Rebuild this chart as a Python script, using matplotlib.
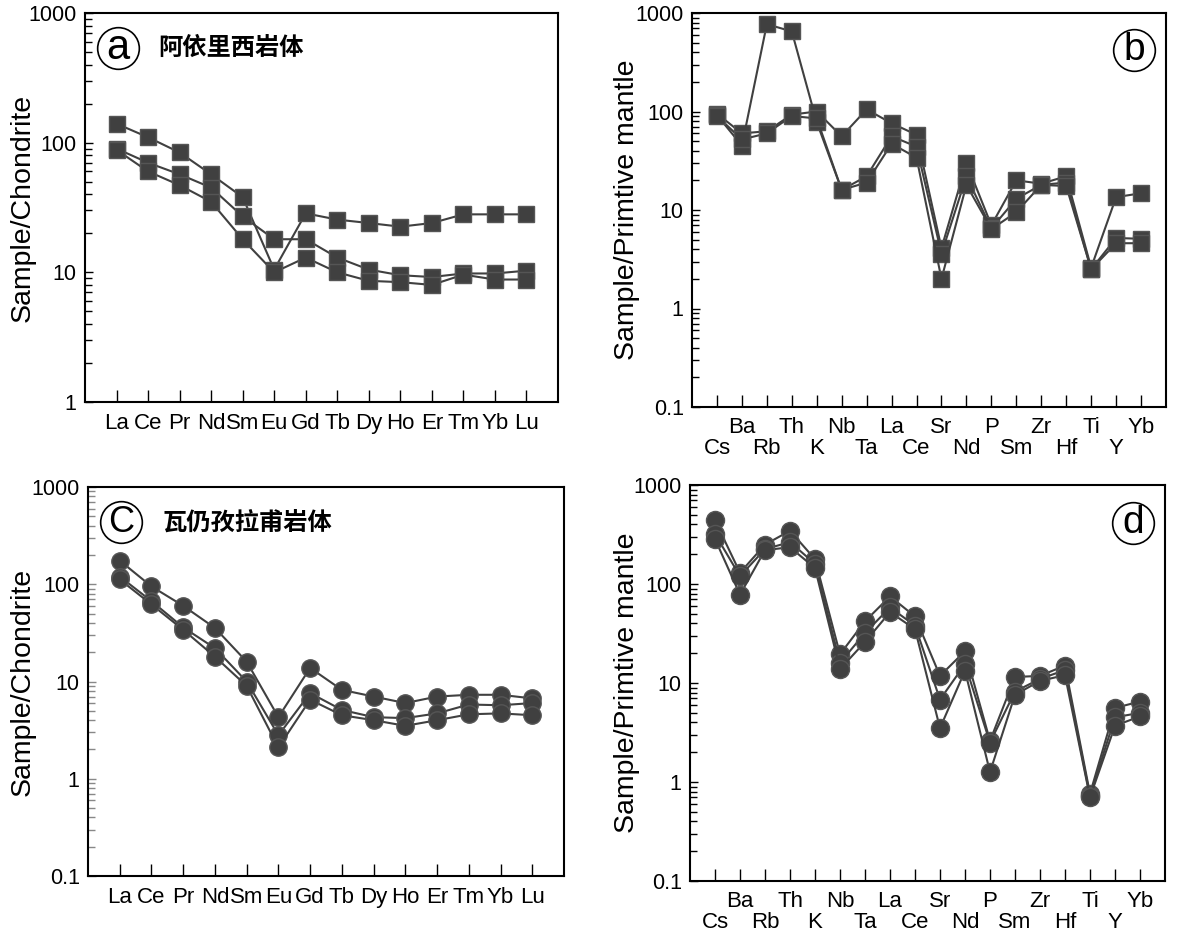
import numpy as np
import matplotlib
matplotlib.use("Agg")
import matplotlib.pyplot as plt
from matplotlib.ticker import LogLocator, FixedLocator, NullFormatter

plt.rcParams["font.family"] = ["Liberation Sans", "DejaVu Sans"]

# ---- data ----
ree = ["La", "Ce", "Pr", "Nd", "Sm", "Eu", "Gd", "Tb", "Dy", "Ho", "Er", "Tm", "Yb", "Lu"]
spider = ["Cs", "Ba", "Rb", "Th", "K", "Nb", "Ta", "La", "Ce", "Sr", "Nd", "P",
          "Sm", "Zr", "Hf", "Ti", "Y", "Yb"]

# (a) 阿依里西岩体, chondrite-normalised REE
a1 = [140, 110, 84, 57, 38, 10.5, 28.5, 25.5, 24, 22.5, 24, 28, 28, 28]
a2 = [90, 70, 57, 45, 27, 18, 18, 13, 10.5, 9.5, 9.2, 9.8, 9.8, 10.3]
a3 = [88, 60, 47, 35, 18, 10, 13, 10, 8.6, 8.4, 8.0, 9.6, 8.8, 8.8]

# (b) 阿依里西岩体, primitive-mantle-normalised
b1 = [95, 60, 63, 93, 100, 56, 105, 76, 58, 4.1, 30, 7.0, 20, 18.5, 22, 2.6, 13.5, 14.8]
b2 = [92, 45, 770, 650, 78, 16, 22, 56, 44, 3.6, 22, 6.5, 13, 18, 19, 2.5, 5.2, 5.1]
b3 = [90, 52, 60, 90, 85, 16, 19, 47, 34, 2.0, 18, 6.4, 9.5, 18, 17.5, 2.5, 4.6, 4.6]

# (c) 瓦仍孜拉甫岩体, chondrite-normalised REE
c1 = [175, 95, 60, 35.5, 16, 4.3, 13.8, 8.2, 7.0, 6.0, 7.0, 7.3, 7.3, 6.7]
c2 = [120, 67, 36, 22, 10, 2.8, 7.6, 5.1, 4.3, 4.2, 4.7, 5.8, 5.7, 6.0]
c3 = [112, 62, 34, 18, 9, 2.1, 6.5, 4.5, 4.0, 3.5, 4.0, 4.6, 4.7, 4.5]

# (d) 瓦仍孜拉甫岩体, primitive-mantle-normalised
d1 = [440, 130, 250, 345, 178, 19.5, 42, 75, 47, 11.8, 21, 2.6, 11.5, 11.8, 15, 0.76, 5.6, 6.5]
d2 = [320, 120, 225, 265, 160, 16, 32, 58, 38, 6.8, 15.5, 2.5, 8.2, 11, 13.5, 0.72, 4.5, 5.0]
d3 = [285, 78, 220, 235, 145, 13.8, 26, 52, 35, 3.5, 13.3, 1.26, 7.6, 10.5, 12, 0.70, 3.7, 4.6]

col = "#404040"
W, H = 1177, 932
fig = plt.figure(figsize=(W / 100, H / 100), dpi=100)


def box(l, r, t, b):
    return [l / W, 1 - b / H, (r - l) / W, (b - t) / H]


def setup(ax, names, ymin, ylabel, labx, two_rows=False, tickcol="k"):
    ax.set_yscale("log")
    ax.set_ylim(ymin, 1000)
    ax.set_xlim(0, len(names) + 1)
    x = np.arange(1, len(names) + 1)
    ax.xaxis.set_major_locator(FixedLocator(x))
    ax.set_xticklabels(names)
    ax.tick_params(axis="x", direction="in", length=9, width=1, labelsize=16,
                   pad=8, top=False)
    if two_rows:
        for i, t in enumerate(ax.xaxis.get_major_ticks()):
            t.set_pad(7 if i % 2 == 1 else 22)
    ax.yaxis.set_major_locator(LogLocator(base=10, numticks=10))
    ax.yaxis.set_minor_locator(LogLocator(base=10, subs=np.arange(2, 10), numticks=10))
    ax.yaxis.set_minor_formatter(NullFormatter())
    ax.yaxis.set_major_formatter(plt.FuncFormatter(lambda v, p: f"{v:g}"))
    ax.tick_params(axis="y", which="both", direction="in", length=6, width=1,
                   color=tickcol, labelsize=15.5, pad=6, right=False)
    ax.tick_params(axis="y", which="minor", length=5)
    for s in ax.spines.values():
        s.set_linewidth(1.5)
    ax.set_ylabel(ylabel, fontsize=20.5)
    ax.yaxis.set_label_coords(labx, 0.5)


def circled(ax, x, y, letter, fs):
    ax.plot([x], [y], marker="o", ms=30, mfc="none", mec="k", mew=1.2,
            transform=ax.transAxes, clip_on=False)
    ax.text(x, y, letter, transform=ax.transAxes, ha="center", va="center",
            fontsize=fs)


# (a)
ax = fig.add_axes(box(85, 558, 13, 402))
x = np.arange(1, len(ree) + 1)
for s in (a1, a2, a3):
    ax.plot(x, s, color=col, lw=1.5, marker="s", ms=12, mfc=col, mec="#555555")
setup(ax, ree, 1, "Sample/Chondrite", -0.104)
circled(ax, (118 - 85) / 473, 1 - (48 - 13) / 389, "a", 30)
ax.text((158 - 85) / 473, 1 - (48 - 13) / 389, "阿依里西岩体", transform=ax.transAxes,
        ha="left", va="center", fontsize=17.5, fontweight="bold",
        family=["Noto Sans CJK SC", "DejaVu Sans"])

# (b)
ax = fig.add_axes(box(692, 1166, 13, 407))
x = np.arange(1, len(spider) + 1)
for s in (b1, b2, b3):
    ax.plot(x, s, color=col, lw=1.5, marker="s", ms=12, mfc=col, mec="#555555")
setup(ax, spider, 0.1, "Sample/Primtive mantle", -0.11, two_rows=True)
circled(ax, (1134 - 692) / 474, 1 - (50 - 13) / 394, "b", 28)

# (c)
ax = fig.add_axes(box(88, 564, 487, 876))
x = np.arange(1, len(ree) + 1)
for s in (c1, c2, c3):
    ax.plot(x, s, color=col, lw=1.5, marker="o", ms=12.5, mfc=col, mec="#555555")
setup(ax, ree, 0.1, "Sample/Chondrite", -0.109, tickcol="#888888")
circled(ax, (121 - 88) / 476, 1 - (522 - 487) / 389, "C", 26)
ax.text((163 - 88) / 476, 1 - (524 - 487) / 389, "瓦仍孜拉甫岩体", transform=ax.transAxes,
        ha="left", va="center", fontsize=17.5, fontweight="bold",
        family=["Noto Sans CJK SC", "DejaVu Sans"])

# (d)
ax = fig.add_axes(box(690, 1165, 485, 881))
x = np.arange(1, len(spider) + 1)
for s in (d1, d2, d3):
    ax.plot(x, s, color=col, lw=1.5, marker="o", ms=13, mfc=col, mec="#555555")
setup(ax, spider, 0.1, "Sample/Primtive mantle", -0.105, two_rows=True)
circled(ax, (1133 - 690) / 475, 1 - (523 - 485) / 396, "d", 28)

fig.savefig("out.png", dpi=100, facecolor="white")
